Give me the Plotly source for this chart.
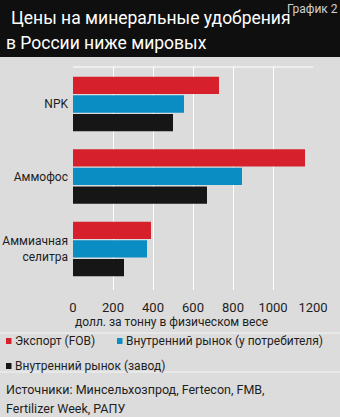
import plotly.graph_objects as go

# Data: prices of mineral fertilizers, USD per tonne (physical weight)
categories = ["NPK", "Аммофос", "Аммиачная<br>селитра"]
series_names = ["Экспорт (FOB)", "Внутренний рынок (у потребителя)", "Внутренний рынок (завод)"]
export_fob = [730, 1160, 390]
domestic_consumer = [555, 845, 370]
domestic_plant = [500, 670, 255]
x_ticks = [0, 200, 400, 600, 800, 1000, 1200]

title_lines = ["Цены на минеральные удобрения", "в России ниже мировых"]
chart_no = "График 2"
axis_note = "долл. за тонну в физическом весе"
sources = ["Источники: Минсельхозпрод, Fertecon, FMB,", "Fertilizer Week, РАПУ"]

colors = ["#d6202b", "#0a8dc3", "#161616"]
BG = "#dcdcdc"
FONT = "Roboto, sans-serif"
TXT = "#1e1e1e"

W, H = 340, 417
ML, MR, MT, MB = 73, 27, 67, 127
PW, PH = W - ML - MR, H - MT - MB


def px(x):
    return (x - ML) / PW


def py(y):
    return (H - MB - y) / PH


fig = go.Figure()
for name, vals, col in zip(series_names, [export_fob, domestic_consumer, domestic_plant], colors):
    fig.add_trace(go.Bar(
        y=categories, x=vals, name=name, orientation="h",
        marker=dict(color=col, line=dict(width=0)), showlegend=False,
    ))

shapes = [
    # black header band
    dict(type="rect", xref="paper", yref="paper", x0=px(0), x1=px(W), y0=py(57), y1=py(0),
         fillcolor="#0f0f0f", line=dict(width=0), layer="below"),
    # top border of the plot area
    dict(type="line", xref="paper", yref="paper", x0=0, x1=1, y0=1, y1=1,
         line=dict(color="white", width=1)),
    # separators around the legend block
    dict(type="line", xref="paper", yref="paper", x0=px(0), x1=px(W), y0=py(333), y1=py(333),
         line=dict(color="#f4f4f4", width=1)),
    dict(type="line", xref="paper", yref="paper", x0=px(0), x1=px(W), y0=py(372), y1=py(372),
         line=dict(color="#f4f4f4", width=1)),
]

annotations = [
    dict(text=title_lines[0], x=px(9), y=py(18), xanchor="left", yanchor="middle",
         font=dict(size=17.5, color="white", family=FONT)),
    dict(text=title_lines[1], x=px(4), y=py(43), xanchor="left", yanchor="middle",
         font=dict(size=17.5, color="white", family=FONT)),
    dict(text=chart_no, x=px(340), y=py(9), xanchor="right", yanchor="middle",
         font=dict(size=12, color="#d0d0d0", family=FONT)),
    dict(text=axis_note, x=px(73), y=py(321.5), xanchor="left", yanchor="middle",
         font=dict(size=12, color=TXT, family=FONT)),
    dict(text=sources[0], x=px(4), y=py(389), xanchor="left", yanchor="middle",
         font=dict(size=12.5, color=TXT, family=FONT)),
    dict(text=sources[1], x=px(4), y=py(408), xanchor="left", yanchor="middle",
         font=dict(size=12.5, color=TXT, family=FONT)),
]

# legend entries: coloured square + label
legend_pos = [(6, 341), (117, 341), (6, 366)]
for name, col, (lx, ly) in zip(series_names, colors, legend_pos):
    shapes.append(dict(type="rect", xref="paper", yref="paper",
                       x0=px(lx), x1=px(lx + 5.5), y0=py(ly + 3), y1=py(ly - 3),
                       fillcolor=col, line=dict(width=0)))
    annotations.append(dict(text=name, x=px(lx + 7), y=py(ly), xanchor="left", yanchor="middle",
                            font=dict(size=12, color=TXT, family=FONT)))

for a in annotations:
    a.update(xref="paper", yref="paper", showarrow=False)

fig.update_layout(
    width=W, height=H,
    margin=dict(l=ML, r=MR, t=MT, b=MB, pad=0),
    paper_bgcolor=BG, plot_bgcolor=BG,
    barmode="group", bargap=0.23, bargroupgap=0.07,
    font=dict(family=FONT, size=12, color=TXT),
    shapes=shapes, annotations=annotations,
    xaxis=dict(range=[0, 1200], tickvals=x_ticks, showgrid=True, gridcolor="white", gridwidth=1,
               zeroline=False, showline=False, ticks="", ticklabelstandoff=8, automargin=False,
               tickfont=dict(size=13, color=TXT, family=FONT), fixedrange=True),
    yaxis=dict(range=[2.566, -0.51], showgrid=False, zeroline=False, showline=False, ticks="",
               ticklabelstandoff=4, automargin=False,
               tickfont=dict(size=12, color=TXT, family=FONT), fixedrange=True),
)

fig.write_html("out.html", config=dict(displayModeBar=False))
